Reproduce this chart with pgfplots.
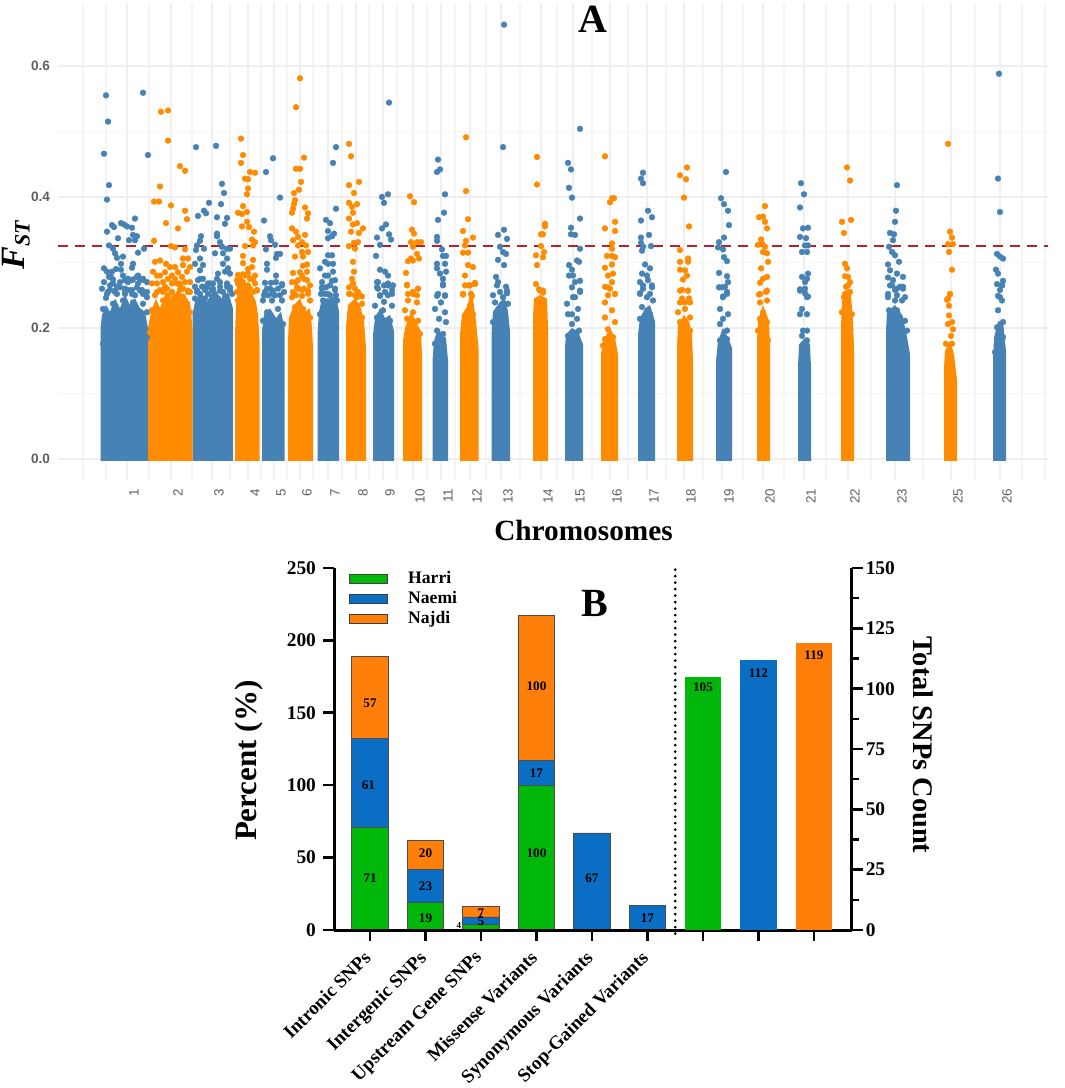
\documentclass[border=0pt]{standalone}
\usepackage{fontspec}
\setmainfont{Liberation Serif}
\newfontfamily\sansf{Liberation Sans}
\usepackage{pgfplots}
\pgfplotsset{compat=1.18}
\definecolor{fstblue}{HTML}{4682B4}
\definecolor{fstorange}{HTML}{FF8C00}
\definecolor{fstred}{HTML}{B2222C}
\definecolor{gridmaj}{HTML}{EFEFF1}
\definecolor{gridmin}{HTML}{F5F5F6}
\definecolor{ticktxt}{HTML}{5F5F5F}
\definecolor{harri}{HTML}{00B80A}
\definecolor{naemi}{HTML}{0A6EC4}
\definecolor{najdi}{HTML}{FF7F0A}
\pgfplotsset{
  blk/.style={draw=none, fill=fstblue, forget plot},
  ork/.style={draw=none, fill=fstorange, forget plot},
  dots/.style={only marks, color=#1, mark=*, mark size=1.45pt, mark options={draw=#1, fill=#1, line width=.2pt}, forget plot},
}
\newcommand\barnum{\bfseries\fontsize{6.6}{7}\selectfont}
\begin{document}
\begin{tikzpicture}
\path[use as bounding box] (0,0) rectangle (532.5pt,544pt);
% panel A: x runs along the genome, one unit per pixel of the reference
\begin{axis}[
  at={(29pt,304pt)}, anchor=south west,
  scale only axis, width=495pt, height=238.5pt,
  xmin=58, xmax=1048, ymin=-0.032, ymax=0.696,
  axis line style={draw=none}, tick style={draw=none},
  grid=both,
  major grid style={gridmaj, line width=.8pt},
  minor grid style={gridmin, line width=.7pt},
  ytick={0,0.2,0.4,0.6}, minor ytick={0.1,0.3,0.5},
  yticklabel style={font=\sansf\bfseries\fontsize{6.8}{7}\selectfont, text=ticktxt, /pgf/number format/fixed, /pgf/number format/fixed zerofill, /pgf/number format/precision=1, /pgf/number format/assume math mode=true, xshift=-0.5pt},
  xtick={127,171,212,248,274,300,328,356,383,413,441,470,501,541,573,610,647,684,722,763,804,848,895,951,1000},
  xticklabels={1,2,3,4,5,6,7,8,9,10,11,12,13,14,15,16,17,18,19,20,21,22,23,25,26},
  minor xtick={83,106,149,192,230,261,287,313,342,369,397,427,455,486,520,557,592,628,666,703,743,784,826,871,923,975,1022,1045},
  xticklabel style={font=\sansf\fontsize{6.7}{7}\selectfont, text=ticktxt, rotate=90, anchor=east, xshift=-1pt, yshift=-3.5pt},
]
% solid lower part of each chromosome
\addplot[blk] coordinates {(100.5,-.003)(100.5,.2)(102,.22)(106,.235)(110,.225)(115,.245)(120,.23)(125,.25)(130,.235)(135,.245)(140,.23)(145,.225)(148.5,.195)(148.5,-.003)};
\addplot[blk] coordinates {(192.5,-.003)(192.5,.22)(195,.24)(201,.255)(207,.24)(214,.26)(221,.245)(228,.255)(233,.23)(233,-.003)};
\addplot[blk] coordinates {(262,-.003)(262,.195)(264,.22)(270,.23)(276,.215)(281,.225)(284.5,.2)(284.5,-.003)};
\addplot[blk] coordinates {(317.5,-.003)(317.5,.19)(319,.225)(322,.245)(330,.245)(336,.25)(339,.225)(339,-.003)};
\addplot[blk] coordinates {(373,-.003)(373,.19)(375,.215)(380,.23)(385,.215)(390,.22)(394,.195)(394,-.003)};
\addplot[blk] coordinates {(432.5,-.003)(432.5,.15)(434,.18)(438,.2)(442,.19)(446,.185)(448,.15)(448,-.003)};
\addplot[blk] coordinates {(491.5,-.003)(491.5,.19)(493,.225)(500,.24)(505,.245)(508,.225)(510,.195)(510,-.003)};
\addplot[blk] coordinates {(565,-.003)(565,.17)(566,.19)(572,.2)(578,.195)(583,.175)(583,-.003)};
\addplot[blk] coordinates {(638,-.003)(638,.19)(640,.215)(645,.23)(650,.235)(655,.21)(655,-.003)};
\addplot[blk] coordinates {(716,-.003)(716,.15)(718,.18)(723,.2)(728,.185)(732,.17)(732,-.003)};
\addplot[blk] coordinates {(798,-.003)(798,.14)(799,.175)(805,.185)(810,.175)(811,.14)(811,-.003)};
\addplot[blk] coordinates {(886,-.003)(886,.195)(887,.225)(895,.235)(902,.22)(906,.195)(910,.16)(910,-.003)};
\addplot[blk] coordinates {(993,-.003)(993,.15)(994,.185)(998,.21)(1003,.21)(1006,.165)(1006,-.003)};
\addplot[ork] coordinates {(148,-.003)(148,.2)(151,.225)(156,.245)(160,.23)(166,.255)(172,.24)(178,.26)(184,.245)(190,.24)(192.5,.2)(192.5,-.003)};
\addplot[ork] coordinates {(235,-.003)(235,.19)(236,.235)(238,.26)(243,.27)(250,.26)(256,.24)(258,.22)(259.5,.18)(259.5,-.003)};
\addplot[ork] coordinates {(288,-.003)(288,.18)(289,.215)(294,.235)(300,.245)(305,.225)(310,.23)(312,.2)(313,.17)(313,-.003)};
\addplot[ork] coordinates {(346,-.003)(346,.2)(348,.235)(355,.245)(360,.235)(364,.21)(366,.17)(366,-.003)};
\addplot[ork] coordinates {(403,-.003)(403,.18)(405,.2)(411,.225)(416,.21)(421,.195)(422,.16)(422,-.003)};
\addplot[ork] coordinates {(460,-.003)(460,.19)(462,.22)(468,.235)(470,.26)(473,.245)(476,.21)(478.5,.17)(478.5,-.003)};
\addplot[ork] coordinates {(533,-.003)(533,.215)(534,.245)(540,.25)(547,.245)(548,.2)(548,-.003)};
\addplot[ork] coordinates {(601,-.003)(601,.16)(603,.18)(610,.2)(615,.185)(618,.16)(618,-.003)};
\addplot[ork] coordinates {(677,-.003)(677,.17)(678,.205)(684,.22)(689,.21)(692,.19)(693,.15)(693,-.003)};
\addplot[ork] coordinates {(757,-.003)(757,.18)(758,.21)(763,.235)(768,.215)(769,.21)(770,.17)(770,-.003)};
\addplot[ork] coordinates {(841,-.003)(841,.2)(842,.24)(846,.26)(851,.25)(853,.21)(854,.17)(854,-.003)};
\addplot[ork] coordinates {(944,-.003)(944,.14)(945,.165)(950,.18)(954,.16)(957,.12)(957,-.003)};
% separate SNPs, blue chromosomes
\addplot[dots=fstblue] coordinates {
(106,.555)(108,.515)(104,.466)(143,.559)(148,.464)(109,.418)(107,.396)(135,.367)(107,.347)(112,.357)(114,.354)(121,.360)(124,.358)(127,.355)(132,.353)(137,.340)(133,.342)(135,.334)(129,.334)(118,.337)(109,.326)(144,.321)(138,.315)(113,.321)(115,.314)(117,.307)(123,.309)(121,.298)(133,.298)(132,.292)(121,.289)(104,.291)(107,.286)(112,.286)(109,.278)(113,.274)(110,.265)(117,.263)(128,.275)(133,.274)(138,.280)(143,.275)(147,.270)(138,.268)(108,.255)(115,.255)(125,.255)(132,.252)(143,.252)(106,.246)(147,.247)
(107,.252)(115,.257)(125,.260)(140,.257)(103,.229)(113,.237)(123,.242)(133,.239)(143,.237)(105,.214)(113,.221)(122,.227)(132,.221)(138,.227)(147,.224)(107,.196)(117,.204)(127,.201)(133,.206)(143,.214)(103,.176)(140,.188)(147,.186)(115,.188)(125,.183)
(111,.278)(113,.268)(110,.258)(117,.252)(125,.273)(128,.27)(132,.273)(137,.278)(140,.275)(143,.273)(137,.262)(142,.258)(147,.255)(128,.258)(125,.252)(132,.258)(120,.27)(123,.28)(102,.26)(104,.27)(116,.29)(120,.262)(135,.25)
(196,.476)(216,.478)(222,.420)(224,.406)(209,.391)(221,.389)(204,.379)(198,.371)(206,.375)(217,.369)(227,.368)(225,.359)(217,.344)(217,.340)(201,.340)(200,.333)(220,.331)(197,.326)(222,.324)(227,.321)(230,.321)(196,.319)(204,.321)(215,.314)(223,.314)(227,.306)(200,.306)(195,.298)(203,.296)(200,.288)(223,.298)(228,.291)(225,.286)(230,.283)(200,.275)(210,.268)(218,.283)(220,.270)(203,.263)(195,.263)(227,.263)(213,.260)(208,.252)(232,.252)
(197,.257)(207,.262)(220,.257)(230,.262)(200,.242)(213,.247)(227,.242)(197,.227)(208,.232)(220,.227)(230,.227)
(198,.273)(202,.263)(205,.258)(208,.268)(213,.268)(217,.275)(220,.263)(223,.255)(227,.268)(230,.258)(200,.252)(215,.252)(225,.248)(197,.255)(203,.275)(212,.258)(195,.245)(205,.245)(218,.245)
(273,.459)(266,.438)(280,.399)(264,.364)(270,.340)(271,.334)(275,.327)(266,.320)(277,.313)(280,.313)(276,.307)(267,.298)(267,.289)(276,.280)(265,.269)(271,.269)(282,.267)(278,.260)(272,.252)(265,.255)
(267,.260)(282,.265)(273,.257)(263,.242)(272,.242)(282,.242)(267,.224)(278,.229)(263,.211)(273,.214)(283,.206)(268,.204)
(268,.25)(275,.25)(280,.25)(270,.26)(276,.27)(284,.255)(264,.25)
(336,.476)(333,.452)(336,.382)(326,.365)(330,.360)(328,.348)(334,.344)(332,.340)(328,.337)(332,.311)(328,.311)(325,.301)(320,.291)(333,.298)(328,.298)(333,.286)(328,.280)(322,.270)(335,.273)(330,.265)(322,.260)(325,.252)(335,.258)
(322,.262)(335,.260)(328,.252)(323,.242)(337,.242)(328,.237)(320,.221)(333,.229)
(325,.28)(330,.25)(336,.25)(321,.252)(326,.262)(332,.272)
(389,.544)(382,.400)(388,.404)(384,.391)(386,.358)(382,.352)(389,.343)(377,.338)(391,.335)(380,.327)(376,.310)(380,.289)(385,.286)(388,.280)(377,.270)(388,.268)(393,.265)(378,.260)(392,.258)
(377,.262)(388,.265)(392,.252)(380,.249)(375,.234)(392,.234)(383,.227)(377,.216)(390,.211)(378,.196)(390,.196)
(380,.25)(385,.255)(388,.25)(384,.265)(378,.27)(384,.24)
(438,.457)(440,.442)(437,.438)(445,.404)(444,.376)(438,.365)(437,.339)(437,.333)(442,.320)(443,.310)(446,.310)(437,.298)(445,.298)(437,.291)(440,.283)(446,.286)(443,.275)(443,.265)(438,.252)(445,.250)
(443,.267)(437,.249)(445,.249)(441,.239)(435,.229)(445,.224)(439,.214)(446,.209)(437,.196)(443,.191)(435,.176)
(504,.663)(503,.476)(504,.350)(498,.342)(507,.336)(500,.324)(503,.316)(506,.313)(498,.304)(504,.296)(496,.278)(498,.270)(506,.263)(500,.255)(507,.253)(493,.250)
(497,.265)(507,.257)(503,.247)(495,.239)(508,.237)(500,.227)(493,.209)
(580,.504)(568,.452)(571,.442)(569,.414)(572,.399)(580,.367)(571,.353)(571,.343)(575,.342)(580,.321)(577,.303)(579,.301)(569,.296)(572,.289)(569,.280)(573,.280)(575,.270)(580,.272)(572,.262)(580,.255)(573,.247)
(580,.257)(575,.247)(567,.237)(578,.229)(572,.221)(568,.221)(577,.214)(572,.206)(579,.196)(568,.188)
(643,.437)(641,.428)(643,.421)(648,.379)(652,.369)(641,.364)(649,.342)(641,.338)(641,.330)(651,.325)(643,.324)(642,.318)(645,.297)(650,.291)(642,.283)(647,.280)(640,.270)(648,.273)(652,.265)(643,.260)(650,.252)(640,.253)
(643,.265)(652,.262)(640,.252)(647,.247)(653,.242)(642,.232)(650,.221)(640,.214)(645,.209)
(726,.438)(721,.398)(724,.389)(728,.379)(729,.357)(724,.338)(719,.331)(718,.323)(723,.320)(724,.308)(727,.302)(719,.284)(727,.279)(728,.270)(725,.263)(719,.262)(727,.255)(723,.248)
(722,.262)(727,.252)(723,.247)(720,.229)(728,.221)(723,.214)(720,.206)(727,.196)(720,.181)(727,.183)
(801,.421)(804,.404)(800,.384)(808,.353)(803,.352)(800,.339)(806,.337)(805,.326)(808,.326)(802,.316)(807,.316)(808,.283)(802,.278)(807,.275)(805,.270)(800,.259)(805,.253)(808,.248)
(805,.260)(800,.257)(807,.247)(802,.229)(800,.221)(807,.221)(803,.196)(807,.196)(802,.188)(807,.181)
(897,.418)(896,.379)(895,.362)(890,.345)(894,.343)(893,.334)(889,.324)(892,.316)(895,.311)(899,.301)(888,.297)(890,.288)(897,.283)(903,.278)(888,.277)(893,.273)(892,.265)(900,.263)(903,.263)(895,.258)(888,.252)(905,.247)(897,.250)
(890,.265)(897,.260)(903,.260)(888,.247)(895,.242)(902,.242)(889,.227)(897,.227)(905,.211)(900,.216)(892,.216)(907,.196)(902,.183)(905,.160)
(999,.588)(998,.428)(1000,.377)(997,.313)(1000,.309)(1003,.306)(996,.289)(998,.283)(1003,.272)(997,.267)(1002,.265)(1000,.258)(1000,.247)
(1002,.265)(998,.249)(1002,.242)(998,.227)(1003,.209)(997,.201)(1003,.186)(995,.163)
};
% separate SNPs, orange chromosomes
\addplot[dots=fstorange] coordinates {
(161,.530)(168,.532)(168,.486)(180,.447)(185,.440)(160,.416)(154,.393)(159,.393)(171,.387)(185,.379)(187,.366)(166,.360)(178,.352)(154,.333)(171,.325)(175,.323)(185,.320)
(155,.301)(160,.303)(166,.298)(170,.293)(175,.293)(183,.306)(188,.306)(183,.296)(190,.293)(153,.286)(163,.270)(157,.280)(187,.286)(182,.278)(177,.268)(185,.270)(165,.263)(172,.255)(160,.258)(180,.258)(188,.255)(152,.268)
(157,.255)(167,.260)(180,.265)(188,.257)(163,.242)(173,.244)(185,.242)(152,.227)(160,.227)(177,.227)(190,.224)(155,.209)(168,.214)(182,.211)(150,.193)(160,.196)(173,.196)(187,.196)(167,.183)(180,.186)
(157,.268)(160,.28)(168,.275)(172,.268)(175,.275)(180,.268)(183,.26)(190,.27)(190,.255)(163,.255)(168,.25)(175,.248)(155,.25)(183,.248)(178,.285)(172,.28)(165,.285)
(241,.489)(243,.464)(241,.452)(250,.438)(255,.437)(245,.428)(248,.427)(248,.413)(247,.404)(243,.386)(238,.376)(242,.374)(247,.377)(247,.362)(242,.355)(249,.354)(254,.347)(252,.335)(255,.331)(253,.326)(245,.325)(243,.310)(243,.299)(253,.304)(252,.293)(243,.282)(248,.283)(238,.281)(237,.273)(243,.270)(253,.275)(255,.268)(240,.263)(248,.265)(237,.255)(245,.255)(253,.255)(257,.258)
(240,.262)(248,.257)(257,.257)(238,.242)(252,.242)(243,.247)
(240,.275)(245,.28)(250,.275)(243,.26)(250,.26)(238,.268)(255,.28)(248,.29)
(300,.581)(296,.537)(304,.460)(296,.443)(300,.443)(301,.423)(299,.411)(294,.406)(295,.395)(294,.389)(293,.382)(292,.376)(305,.384)(308,.375)(307,.367)(292,.352)(296,.347)(305,.342)(298,.339)(293,.334)(302,.331)(298,.326)(306,.326)(302,.316)(308,.316)(295,.309)(303,.309)(307,.297)(293,.284)(302,.280)(307,.286)(298,.273)(307,.273)(293,.255)(302,.258)(308,.252)
(297,.262)(308,.257)(292,.247)(302,.249)(310,.242)(295,.232)(303,.229)(292,.214)(300,.211)(310,.216)
(296,.27)(300,.285)(304,.275)(298,.26)(304,.26)(310,.265)(292,.27)(296,.25)(303,.295)
(349,.481)(351,.462)(359,.423)(349,.418)(354,.406)(349,.391)(357,.389)(352,.385)(353,.376)(349,.367)(357,.360)(353,.358)(363,.352)(351,.347)(359,.345)(358,.331)(354,.330)(349,.325)(355,.321)(353,.301)(354,.286)(353,.268)(349,.252)(355,.250)(362,.248)
(350,.252)(357,.247)(362,.237)(358,.227)(350,.221)(362,.216)
(349,.262)(355,.26)(352,.275)(358,.255)(360,.25)
(410,.401)(414,.392)(412,.350)(414,.344)(411,.331)(417,.331)(421,.331)(413,.324)(417,.313)(411,.306)(419,.306)(413,.303)(408,.302)(406,.284)(407,.265)(418,.260)(413,.255)(408,.252)(417,.250)
(407,.266)(418,.260)(413,.252)(408,.242)(417,.239)(405,.227)(413,.224)(407,.214)(418,.211)(412,.196)(420,.191)
(466,.491)(466,.409)(468,.366)(463,.348)(473,.338)(466,.333)(465,.326)(463,.315)(468,.315)(468,.296)(473,.293)(465,.280)(475,.269)(465,.265)(470,.265)(463,.251)(471,.252)
(475,.267)(468,.265)(463,.252)(472,.249)(470,.234)(465,.219)(473,.221)
(537,.461)(537,.419)(545,.359)(545,.355)(543,.343)(541,.343)(541,.325)(544,.316)(536,.311)(543,.308)(537,.296)(536,.267)(543,.257)(539,.259)(540,.245)
(540,.257)(543,.254)
(605,.462)(612,.398)(614,.398)(610,.392)(615,.362)(605,.352)(615,.348)(612,.329)(612,.321)(607,.310)(612,.310)(615,.308)(605,.292)(612,.297)(613,.283)(608,.280)(612,.270)(605,.263)(610,.260)(615,.252)(608,.250)
(608,.262)(615,.252)(605,.239)(612,.227)(605,.216)(615,.209)(608,.198)(605,.183)(613,.186)(603,.173)
(687,.445)(680,.433)(686,.427)(684,.399)(689,.355)(680,.319)(688,.306)(680,.301)(688,.301)(685,.288)(680,.289)(687,.280)(683,.274)(682,.258)(688,.257)(682,.245)(689,.245)
(680,.257)(688,.257)(685,.239)(680,.239)(690,.239)(685,.229)(678,.224)(690,.216)(680,.209)(690,.196)
(765,.386)(759,.369)(763,.370)(765,.362)(767,.352)(761,.335)(762,.329)(758,.327)(765,.324)(763,.316)(767,.314)(768,.301)(761,.291)(767,.278)(763,.275)(760,.269)(766,.255)(759,.251)
(767,.257)(760,.252)(760,.239)(767,.242)(763,.224)(760,.214)(767,.209)(758,.196)(768,.181)(763,.176)(760,.163)
(847,.445)(850,.425)(842,.362)(851,.365)(844,.345)(845,.298)(847,.291)(848,.278)(845,.279)(850,.270)(846,.263)(850,.255)(844,.247)
(848,.265)(845,.252)(848,.242)(842,.224)(852,.221)
(948,.481)(950,.347)(952,.338)(953,.328)(948,.328)(949,.316)(952,.289)(950,.252)(948,.245)
(950,.251)(947,.243)(949,.234)(949,.219)(952,.209)(948,.206)(953,.198)(951,.188)(946,.176)(952,.176)(950,.165)
};
% threshold
\addplot[fstred, line width=1.2pt, dash pattern=on 5pt off 3.5pt, forget plot] coordinates {(58,.325)(1048,.325)};
\end{axis}
% panel B, left part: stacked percentages
\begin{axis}[
  at={(167pt,79pt)}, anchor=south west,
  scale only axis, width=258.85pt, height=181pt,
  xmin=-0.649, xmax=8.68, ymin=0, ymax=250,
  axis x line=bottom, axis y line=left, axis on top,
  axis line style={line width=1.5pt, -},
  clip=false,
  tick align=outside, major tick length=5.5pt,
  tick style={line width=1.3pt, black},
  ytick={0,50,100,150,200,250},
  xtick={0,1,2,3,4,5,6,7,8},
  xticklabels={Intronic SNPs,Intergenic SNPs,Upstream Gene SNPs,Missense Variants,Synonymous Variants,Stop-Gained Variants,{},{},{}},
  xticklabel style={font=\bfseries\fontsize{9.5}{11}\selectfont, rotate=45, anchor=north east, xshift=-4.5pt, yshift=0.8pt, inner sep=1pt},
  yticklabel style={font=\bfseries\fontsize{9.7}{10}\selectfont, /pgf/number format/assume math mode=true, xshift=0pt},
  ybar stacked, bar width=18.35pt,
  legend style={at={(0.029,1.002)}, anchor=north west, draw=none, fill=none, font=\bfseries\fontsize{8.8}{9.5}\selectfont, row sep=-1.6pt, inner sep=0pt},
  legend cell align=left,
  legend image code/.code={\draw[#1, draw=black!75, line width=.4pt] (0pt,-2.2pt) rectangle (19pt,2.4pt);},
]
\addplot[fill=harri, draw=black!70, line width=.4pt] coordinates {(0,71)(1,19)(2,4)(3,100)(4,0)(5,0)};
\addlegendentry{\hspace*{8pt}Harri}
\addplot[fill=naemi, draw=black!70, line width=.4pt] coordinates {(0,61)(1,23)(2,5)(3,17)(4,67)(5,17)};
\addlegendentry{\hspace*{8pt}Naemi}
\addplot[fill=najdi, draw=black!70, line width=.4pt] coordinates {(0,57)(1,20)(2,7)(3,100)(4,0)(5,0)};
\addlegendentry{\hspace*{8pt}Najdi}
\end{axis}
% panel B, right part: totals on their own scale
\begin{axis}[
  at={(167pt,79pt)}, anchor=south west,
  scale only axis, width=258.85pt, height=181pt,
  xmin=-0.649, xmax=8.68, ymin=0, ymax=150,
  axis x line=none, axis y line=right, axis on top,
  axis line style={line width=1.5pt, -},
  clip=false,
  tick align=outside, major tick length=5.5pt, minor tick length=3.5pt,
  tick style={line width=1.3pt, black},
  ytick={0,25,50,75,100,125,150},
  minor ytick={12.5,37.5,62.5,87.5,112.5,137.5},
  yticklabel style={font=\bfseries\fontsize{9.7}{10}\selectfont, /pgf/number format/assume math mode=true, xshift=-2pt},
]
\addplot[ybar, bar width=18.35pt, bar shift=0pt, fill=harri, draw=none] coordinates {(6,105)};
\addplot[ybar, bar width=18.35pt, bar shift=0pt, fill=naemi, draw=none] coordinates {(7,112)};
\addplot[ybar, bar width=18.35pt, bar shift=0pt, fill=najdi, draw=none] coordinates {(8,119)};
\addplot[black, line width=1.5pt, line cap=round, dash pattern=on 0pt off 3.25pt] coordinates {(5.5,-1.5)(5.5,150)};
\node[font=\barnum] at (axis cs:6,100.6) {105};
\node[font=\barnum] at (axis cs:7,106.4) {112};
\node[font=\barnum] at (axis cs:8,113.7) {119};
\end{axis}
% bar values go in a bare axis over the stacks, which pgfplots paints last
\begin{axis}[
  at={(167pt,79pt)}, anchor=south west,
  scale only axis, width=258.85pt, height=181pt,
  xmin=-0.649, xmax=8.68, ymin=0, ymax=250,
  hide axis, clip=false,
]
\node[font=\barnum] at (axis cs:0,36) {71};
\node[font=\barnum] at (axis cs:-.03,100) {61};
\node[font=\barnum] at (axis cs:0,156.6) {57};
\node[font=\barnum] at (axis cs:1,8) {19};
\node[font=\barnum] at (axis cs:1,30) {23};
\node[font=\barnum] at (axis cs:1,52.8) {20};
\node[font=\bfseries\fontsize{4.5}{5}\selectfont] at (axis cs:1.6,3.2) {4};
\node[font=\barnum] at (axis cs:2,6) {5};
\node[font=\barnum] at (axis cs:2,11.8) {7};
\node[font=\barnum] at (axis cs:3,52.8) {100};
\node[font=\barnum] at (axis cs:3,108.6) {17};
\node[font=\barnum] at (axis cs:3,168.6) {100};
\node[font=\barnum] at (axis cs:4,36) {67};
\node[font=\barnum] at (axis cs:5,8) {17};
\end{axis}
% titles and axis names
\node[font=\bfseries\fontsize{20}{22}\selectfont] at (296.5pt,534.5pt) {A};
\node[font=\bfseries\fontsize{20}{22}\selectfont] at (297.5pt,242.5pt) {B};
\node[font=\bfseries\fontsize{14.65}{16}\selectfont] at (291.75pt,279pt) {Chromosomes};
\node[rotate=90, font=\bfseries\itshape\fontsize{17}{18}\selectfont] at (8pt,421.5pt) {F\raisebox{-2.5pt}{\fontsize{11}{12}\selectfont ST}};
\node[rotate=90, font=\bfseries\fontsize{15.5}{17}\selectfont] at (124.5pt,163.6pt) {Percent (\%)};
\node[rotate=-90, font=\bfseries\fontsize{14.2}{16}\selectfont] at (461.5pt,171.5pt) {Total SNPs Count};
\end{tikzpicture}
\end{document}
